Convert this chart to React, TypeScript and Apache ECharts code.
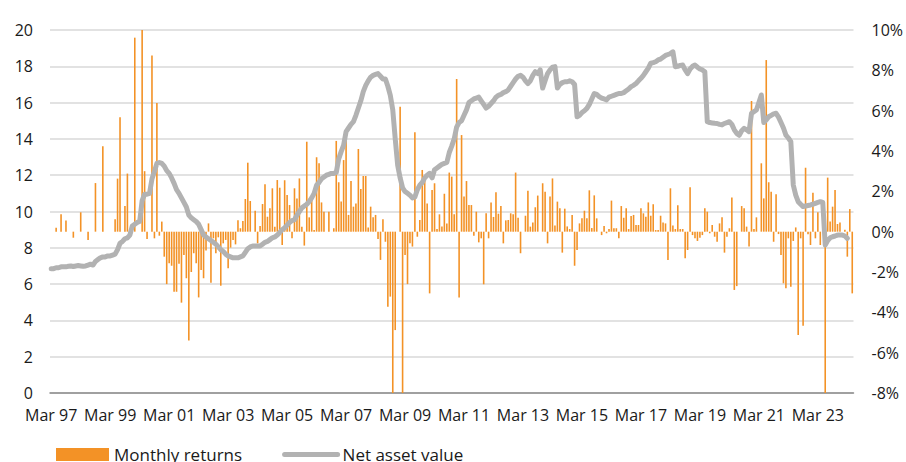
import React, { useEffect, useRef } from "react";
import * as echarts from "echarts";

// First month of the series and month names for the category labels
const START_YEAR = 1997;
const START_MONTH = 2; // March
const MONTH_NAMES = ["Jan", "Feb", "Mar", "Apr", "May", "Jun", "Jul", "Aug", "Sep", "Oct", "Nov", "Dec"];

// Monthly returns (%), right axis
const MONTHLY_RETURNS = [
  0, 0, 0.2, 0, 0.86, 0, 0.55, 0, 0, -0.3, 0, 0,
  0.96, 0, 0, -0.41, 0, 0, 2.41, 0, 0, 4.23, 0, 0,
  0, 0, 0.61, 2.63, 5.67, 0, 1.27, 2.88, 0, 0, 9.62, 0,
  0, 10.0, 3.0, -0.36, 0, 8.74, -0.33, 6.38, -0.2, 0.5, -1.24, -2.6,
  -1.57, -1.69, -2.98, -2.98, -1.59, -3.52, -1.16, -2.31, -5.4, -2.0, -1.07, -1.57,
  -3.26, -1.9, -2.31, -0.93, 0.41, -2.53, -0.33, -1.07, -0.28, -2.68, -0.58, -0.41,
  -1.82, -0.79, -0.41, -0.63, 0.56, 0.17, 0.53, 1.62, 3.42, 1.52, 0, 1.04,
  -0.58, 0.28, 1.37, 2.35, 0.74, 1.16, 2.15, 0.25, 2.56, 2.18, -0.66, 2.55,
  1.82, 1.32, -0.33, 2.15, 1.65, 2.64, 0.25, -0.69, 4.46, 0.71, 1.79, 0.08,
  3.69, 3.39, 1.45, 0.99, 0, 0.99, 0, 0.17, 4.5, 2.45, 1.49, 3.55,
  5.09, 0.83, 2.51, 1.24, 1.4, 4.1, 2.12, 2.76, 2.76, 0.21, 1.24, 0.71,
  0.83, -0.36, -1.4, 0.61, -0.5, -3.72, -3.22, -8.5, -4.88, 0, 6.2, -8.5,
  -1.16, -2.6, -0.58, -0.74, 4.93, -0.25, 0.58, 3.06, 2.61, 1.4, -3.06, 2.07,
  2.4, 0.13, 0.86, 0.26, 1.88, 0.41, 2.93, 2.73, 0.86, 7.57, -3.27, 4.79,
  1.74, 2.51, 1.32, 1.32, -0.2, 0.99, -0.53, -0.33, -2.61, 0.91, -0.33, 1.45,
  0.73, 1.95, 0.89, 1.27, -0.58, 0.56, 0.58, 0.91, 0.86, 2.93, 0.69, -1.07,
  0, 0.79, 2.03, 0.25, 0.45, 1.21, 1.79, 0, 2.4, 1.98, -0.58, 1.74,
  2.64, 0.31, 1.49, 1.16, -1.04, 1.14, 0.26, 0.13, 0.83, -1.69, -0.91, 0.41,
  0.66, 1.04, 0.66, 2.05, 0.18, 1.8, 0.66, 0, -0.17, 0.28, -0.08, 0.13,
  1.54, 0.17, 0.17, -0.33, 1.27, 0.69, 1.16, 0.13, 0.78, 0.83, 0.33, 0.33,
  1.16, 0.91, 0.74, 1.45, 0.79, 1.36, 0.08, 0.08, 0.79, 0.46, 0.41, -1.4,
  2.15, 0.3, 0.13, 1.31, 0.13, 0.13, -1.32, -0.91, 2.2, -0.17, -0.33, -0.46,
  -0.3, -0.17, 1.16, 0.99, -0.08, 0.33, -0.25, -0.5, 0.41, 0.71, -1.04, -0.25,
  0.17, 1.7, -2.89, -2.7, 0, 1.27, 1.16, 0.25, -0.74, 6.48, 0.13, 0.71,
  0, 3.39, 1.65, 8.51, 2.45, 1.98, -0.5, 1.85, -0.12, -1.16, -2.56, -2.81,
  -0.33, -2.73, -0.46, 0.21, -5.12, -0.33, -4.66, 3.17, -0.13, -0.66, 1.93, -0.33,
  0.96, -0.66, 0, -8.5, 2.68, 0.5, 1.24, 2.07, 0.38, 0.45, 0, 0.1,
  -1.24, 1.12, -3.06,
];

// Net asset value, left axis
const NET_ASSET_VALUE = [
  6.85, 6.85, 6.9, 6.9, 6.95, 6.95, 6.95, 6.98, 7.0, 6.97, 7.0, 7.02,
  7.0, 6.98, 7.0, 7.05, 7.1, 7.05, 7.25, 7.35, 7.45, 7.5, 7.5, 7.55,
  7.55, 7.6, 7.65, 7.9, 8.25, 8.35, 8.5, 8.55, 8.7, 9.2, 9.3, 9.4,
  9.45, 10.6, 10.95, 10.95, 11.0, 11.8, 12.2, 12.65, 12.7, 12.65, 12.5, 12.25,
  12.1, 11.85, 11.55, 11.2, 11.0, 10.75, 10.5, 10.25, 9.8, 9.65, 9.55, 9.45,
  9.3, 9.0, 8.7, 8.6, 8.5, 8.4, 8.3, 8.2, 8.05, 7.9, 7.8, 7.65,
  7.55, 7.5, 7.45, 7.45, 7.45, 7.5, 7.55, 7.75, 7.95, 8.05, 8.1, 8.1,
  8.1, 8.1, 8.2, 8.3, 8.35, 8.45, 8.55, 8.6, 8.7, 8.85, 9.0, 9.1,
  9.25, 9.4, 9.5, 9.55, 9.8, 10.0, 10.2, 10.3, 10.4, 10.55, 10.75, 11.0,
  11.45, 11.6, 11.8, 11.9, 12.0, 12.05, 12.1, 12.1, 12.15, 12.9, 13.3, 13.65,
  14.4, 14.6, 14.8, 14.95, 15.3, 15.7, 16.1, 16.6, 16.95, 17.2, 17.4, 17.5,
  17.55, 17.6, 17.45, 17.3, 17.3, 16.9, 16.4, 15.6, 14.0, 12.55, 11.85, 11.3,
  11.1, 11.0, 10.9, 10.75, 10.8, 11.2, 11.45, 11.6, 11.85, 12.0, 12.1, 11.85,
  12.3, 12.4, 12.5, 12.6, 12.65, 12.7, 13.25, 13.6, 14.0, 14.65, 14.9, 15.0,
  15.3, 15.6, 16.0, 16.1, 16.2, 16.25, 16.3, 16.1, 15.9, 15.7, 15.8, 15.95,
  16.1, 16.3, 16.4, 16.45, 16.55, 16.6, 16.7, 16.9, 17.1, 17.3, 17.45, 17.5,
  17.4, 17.2, 17.05, 17.2, 17.5, 17.7, 17.6, 17.8, 16.8, 17.2, 17.6, 17.8,
  17.95, 17.98, 16.8, 17.0, 17.1, 17.15, 17.15, 17.2, 17.15, 17.0, 15.22, 15.3,
  15.45, 15.55, 15.68, 15.9, 16.2, 16.5, 16.45, 16.33, 16.25, 16.2, 16.15, 16.3,
  16.35, 16.4, 16.45, 16.5, 16.5, 16.55, 16.65, 16.75, 16.88, 16.95, 17.05, 17.2,
  17.34, 17.5, 17.7, 17.9, 18.17, 18.2, 18.25, 18.35, 18.4, 18.5, 18.6, 18.65,
  18.7, 18.8, 17.98, 18.0, 18.05, 18.07, 17.8, 17.6, 17.85, 18.0, 18.07, 17.95,
  17.85, 17.8, 17.7, 14.95, 14.9, 14.88, 14.86, 14.85, 14.8, 14.77, 14.85, 14.9,
  14.95, 14.8, 14.5, 14.3, 14.2, 14.45, 14.58, 14.5, 14.4, 15.41, 15.5, 15.59,
  16.0, 16.42, 14.9, 15.05, 15.22, 15.3, 15.38, 15.41, 15.2, 14.9, 14.6, 14.21,
  14.05, 13.85, 11.46, 10.9, 10.54, 10.4, 10.27, 10.3, 10.33, 10.36, 10.4, 10.45,
  10.5, 10.54, 10.5, 8.15, 8.4, 8.55, 8.61, 8.65, 8.7, 8.7, 8.7, 8.65,
  8.52,
];

const LEFT_AXIS = { min: 0, max: 20, interval: 2 };
const RIGHT_AXIS = { min: -8, max: 10, interval: 2 };
const SERIES_NAMES = ["Monthly returns", "Net asset value"];

const CATEGORIES: string[] = MONTHLY_RETURNS.map((_, i) => {
  const m = START_MONTH + i;
  const year = START_YEAR + Math.floor(m / 12);
  return `${MONTH_NAMES[m % 12]} ${String(year % 100).padStart(2, "0")}`;
});

const NAV_DATA = CATEGORIES.map((_, i) => (i < NET_ASSET_VALUE.length ? NET_ASSET_VALUE[i] : null));

const FONT = "'Open Sans', 'Noto Sans', sans-serif";
const TEXT_COLOR = "#1a1a1a";
const BAR_COLOR = "#f39226";
const LINE_COLOR = "#b2b2b2";

export default function App() {
  const ref = useRef<HTMLDivElement>(null);

  useEffect(() => {
    if (!ref.current) return;
    const chart = echarts.init(ref.current, undefined, { renderer: "svg" });
    chart.setOption({
      animation: false,
      textStyle: { fontFamily: FONT },
      grid: { left: 50, right: 51, top: 30, bottom: 69, containLabel: false },
      legend: {
        left: 56,
        top: 446,
        padding: 0,
        itemWidth: 53,
        itemHeight: 13,
        itemGap: 40,
        textStyle: { fontFamily: FONT, fontSize: 17, color: TEXT_COLOR },
        data: [
          { name: SERIES_NAMES[0], icon: "rect" },
          {
            name: SERIES_NAMES[1],
            itemStyle: { opacity: 0 },
            lineStyle: { width: 5, color: LINE_COLOR, cap: "round" },
          },
        ],
      },
      xAxis: {
        type: "category",
        data: CATEGORIES,
        boundaryGap: true,
        axisLine: { onZero: false, lineStyle: { color: "#8a8a8a", width: 1.5 } },
        axisTick: { show: false },
        axisLabel: {
          interval: 23,
          fontFamily: FONT,
          fontSize: 16,
          color: TEXT_COLOR,
          margin: 14,
        },
        splitLine: { show: false },
      },
      yAxis: [
        {
          type: "value",
          position: "left",
          min: LEFT_AXIS.min,
          max: LEFT_AXIS.max,
          interval: LEFT_AXIS.interval,
          axisLine: { show: false },
          axisTick: { show: false },
          axisLabel: { fontFamily: FONT, fontSize: 16, color: TEXT_COLOR, margin: 17 },
          splitLine: { lineStyle: { color: "#d9d9d9", width: 1.5 } },
        },
        {
          type: "value",
          position: "right",
          min: RIGHT_AXIS.min,
          max: RIGHT_AXIS.max,
          interval: RIGHT_AXIS.interval,
          axisLine: { show: false },
          axisTick: { show: false },
          axisLabel: {
            fontFamily: FONT,
            fontSize: 16,
            color: TEXT_COLOR,
            margin: 18,
            formatter: "{value}%",
          },
          splitLine: { show: false },
        },
      ],
      series: [
        {
          name: SERIES_NAMES[0],
          type: "bar",
          yAxisIndex: 1,
          data: MONTHLY_RETURNS,
          barWidth: 1.6,
          clip: true,
          itemStyle: { color: BAR_COLOR },
          z: 2,
        },
        {
          name: SERIES_NAMES[1],
          type: "line",
          yAxisIndex: 0,
          data: NAV_DATA,
          showSymbol: false,
          symbol: "none",
          connectNulls: false,
          lineStyle: { color: LINE_COLOR, width: 5, cap: "round", join: "round" },
          itemStyle: { color: LINE_COLOR },
          z: 3,
        },
      ],
    });
    return () => chart.dispose();
  }, []);

  return (
    <div
      ref={ref}
      style={{ position: "absolute", left: 0, top: 0, width: 906, height: 462, background: "#fff" }}
    />
  );
}
